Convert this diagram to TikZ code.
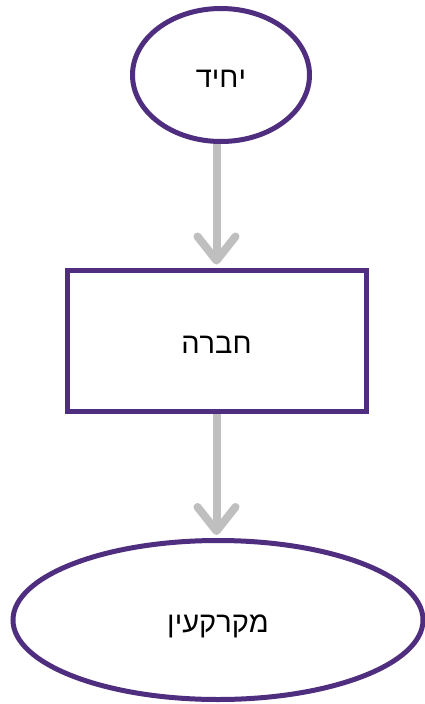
\documentclass[tikz,border=0pt]{standalone}
\usepackage{fontspec}
\setmainfont{Liberation Sans}
\usetikzlibrary{arrows.meta,shapes.geometric}
\TeXXeTstate=1
\definecolor{frame}{RGB}{79,45,127}
\definecolor{flow}{RGB}{191,191,191}
\newcommand{\hebtext}[1]{\beginR #1\endR}
\begin{document}
\begin{tikzpicture}[x=1pt,y=-1pt,
  outline/.style={draw=frame,line width=5pt,fill=white,inner sep=0pt,
    text height=25pt,text depth=0pt,font=\fontsize{29}{33}\selectfont},
  oval/.style={outline,ellipse},
  boxnode/.style={outline,rectangle},
  link/.style={draw=flow,line width=8pt,-{Straight Barb[length=24pt,width=38pt,round]},shorten >=3pt}]
\useasboundingbox (0,0) rectangle (425,704);
\node[oval,minimum width=177pt,minimum height=133pt] (single) at (221,75) {\hebtext{יחיד}};
\node[boxnode,minimum width=299pt,minimum height=141pt] (company) at (216.5,340.5) {\hebtext{חברה}};
\node[oval,minimum width=410pt,minimum height=159pt] (land) at (218,620) {\hebtext{מקרקעין}};
\draw[link] (single.south -| company.north) -- (company.north);
\draw[link] (company.south) -- (company.south |- land.north);
\end{tikzpicture}
\end{document}
